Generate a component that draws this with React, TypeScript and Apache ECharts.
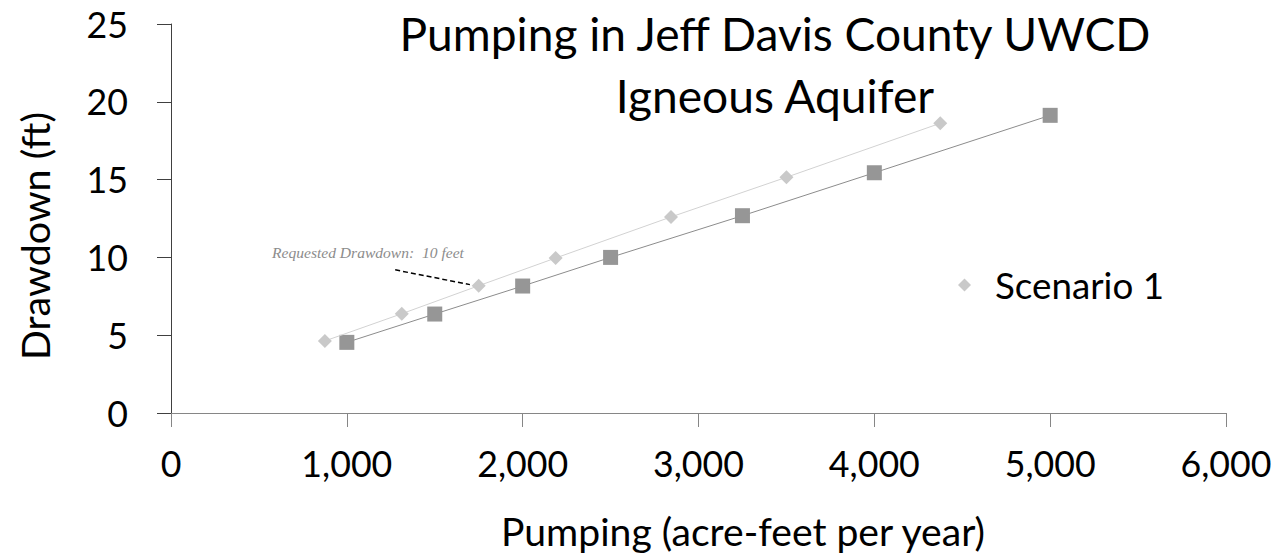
import React, { useEffect, useRef } from "react";
import * as echarts from "echarts";

const titleLine1 = "Pumping in Jeff Davis County UWCD";
const titleLine2 = "Igneous Aquifer";
const xAxisTitle = "Pumping (acre-feet per year)";
const yAxisTitle = "Drawdown (ft)";
const legendLabel = "Scenario 1";
const hiddenSeriesLabel = "Scenario 2";
const annotationText = "Requested Drawdown:  10 feet";

const xMin = 0;
const xMax = 6000;
const xStep = 1000;
const yMin = 0;
const yMax = 25;
const yStep = 5;

const scenario1Pumping = [875, 1312.5, 1750, 2187.5, 2843.75, 3500, 4375];
const scenario1Drawdown = [4.63, 6.38, 8.18, 9.96, 12.6, 15.15, 18.62];
const scenario2Pumping = [1000, 1500, 2000, 2500, 3250, 4000, 5000];
const scenario2Drawdown = [4.54, 6.36, 8.16, 10.0, 12.68, 15.44, 19.13];
const annotationFrom = [1275, 9.2];
const annotationTo = [1700, 8.25];

function fitSize(text: string, family: string, target: number, style = "normal") {
  const ctx = document.createElement("canvas").getContext("2d");
  if (!ctx) return 30;
  ctx.font = `${style} 100px ${family}`;
  const w = ctx.measureText(text).width || 1;
  return (100 * target) / w;
}

function withCommas(v: number) {
  return String(Math.round(v)).replace(/\B(?=(\d{3})+(?!\d))/g, ",");
}

export default function App() {
  const ref = useRef<HTMLDivElement>(null);
  useEffect(() => {
    if (!ref.current) return;
    const chart = echarts.init(ref.current, undefined, { renderer: "svg" });
    const fam = "Lato";
    const titleSize = fitSize(titleLine2, fam, 320);
    const xTitleSize = fitSize(xAxisTitle, fam, 486);
    const yTitleSize = fitSize(yAxisTitle, fam, 248);
    const tickSize = fitSize("5,000", fam, 91);
    const legendSize = fitSize(legendLabel, fam, 169);
    const noteSize = fitSize(annotationText, '"Liberation Serif"', 192, "italic");

    const s1 = scenario1Pumping.map((x, i) => [x, scenario1Drawdown[i]]);
    const s2 = scenario2Pumping.map((x, i) => [x, scenario2Drawdown[i]]);

    chart.setOption({
      animation: false,
      backgroundColor: "#ffffff",
      grid: { left: 171, right: 54, top: 24, bottom: 140, containLabel: false },
      xAxis: {
        type: "value",
        min: xMin,
        max: xMax,
        interval: xStep,
        axisLine: { show: true, onZero: false, lineStyle: { color: "#868686", width: 1 } },
        axisTick: { show: true, length: 14, lineStyle: { color: "#868686", width: 1 } },
        splitLine: { show: false },
        axisLabel: {
          margin: 32,
          fontSize: tickSize,
          fontFamily: fam,
          color: "#000000",
          formatter: (v: number) => withCommas(v),
        },
      },
      yAxis: {
        type: "value",
        min: yMin,
        max: yMax,
        interval: yStep,
        axisLine: { show: true, onZero: false, lineStyle: { color: "#404040", width: 1 } },
        axisTick: { show: true, length: 14, lineStyle: { color: "#404040", width: 1 } },
        splitLine: { show: false },
        axisLabel: {
          margin: 43,
          fontSize: tickSize,
          fontFamily: fam,
          color: "#000000",
        },
      },
      legend: {
        show: true,
        data: [{ name: legendLabel, icon: "diamond" }],
        left: 958,
        top: 265,
        padding: 0,
        itemWidth: 13,
        itemHeight: 13,
        textStyle: {
          fontSize: legendSize,
          fontFamily: fam,
          color: "#000000",
          lineHeight: 40,
          padding: [0, 0, 0, 19],
        },
      },
      series: [
        {
          name: hiddenSeriesLabel,
          type: "line",
          data: s2,
          symbol: "rect",
          symbolSize: 15,
          itemStyle: { color: "#969696" },
          lineStyle: { color: "#8c8c8c", width: 1 },
          z: 2,
        },
        {
          name: legendLabel,
          type: "line",
          data: s1,
          symbol: "diamond",
          symbolSize: 14,
          itemStyle: { color: "#c9c9c9" },
          lineStyle: { color: "#d2d2d2", width: 1 },
          z: 3,
          markLine: {
            silent: true,
            symbol: ["none", "none"],
            label: { show: false },
            lineStyle: { type: [5, 3], color: "#000000", width: 1.5 },
            data: [[{ coord: annotationFrom }, { coord: annotationTo }]],
          },
        },
      ],
      graphic: [
        {
          type: "text",
          x: 775,
          y: 33,
          style: {
            text: titleLine1,
            fontSize: titleSize,
            fontFamily: fam,
            fill: "#000000",
            align: "center",
            verticalAlign: "middle",
          },
        },
        {
          type: "text",
          x: 775,
          y: 95,
          style: {
            text: titleLine2,
            fontSize: titleSize,
            fontFamily: fam,
            fill: "#000000",
            align: "center",
            verticalAlign: "middle",
          },
        },
        {
          type: "text",
          x: 743,
          y: 530,
          style: {
            text: xAxisTitle,
            fontSize: xTitleSize,
            fontFamily: fam,
            fill: "#000000",
            align: "center",
            verticalAlign: "middle",
          },
        },
        {
          type: "text",
          x: 34,
          y: 236,
          rotation: Math.PI / 2,
          style: {
            text: yAxisTitle,
            fontSize: yTitleSize,
            fontFamily: fam,
            fill: "#000000",
            align: "center",
            verticalAlign: "middle",
          },
        },
        {
          type: "text",
          x: 272,
          y: 252,
          style: {
            text: annotationText,
            fontSize: noteSize,
            fontFamily: '"Liberation Serif"',
            fontStyle: "italic",
            fill: "#8c8c8c",
            align: "left",
            verticalAlign: "middle",
          },
        },
      ],
    });
    return () => chart.dispose();
  }, []);
  return (
    <div
      ref={ref}
      style={{ position: "fixed", left: 0, top: 0, width: 1280, height: 553, background: "#fff" }}
    />
  );
}
